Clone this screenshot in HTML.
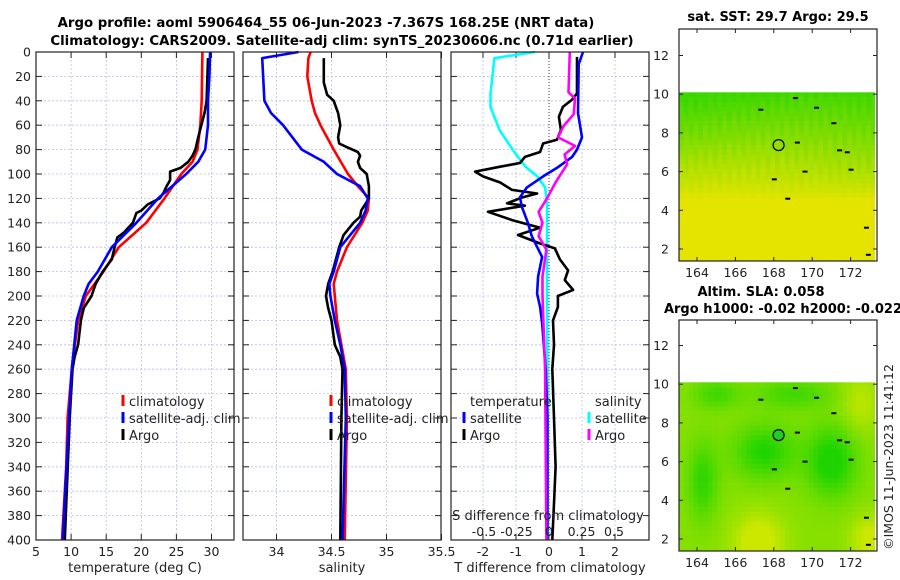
<!DOCTYPE html>
<html><head><meta charset="utf-8"><style>
body{margin:0;background:#fff}
svg{display:block;font-family:"DejaVu Sans","Liberation Sans",sans-serif}
</style></head><body>
<svg id="fig" width="900" height="580" viewBox="0 0 900 580" xmlns="http://www.w3.org/2000/svg">
<defs>
<clipPath id="clipm1"><rect x="679" y="29" width="197" height="232"/></clipPath>
<clipPath id="clipm2"><rect x="679" y="320" width="197" height="231"/></clipPath>
</defs>
<g id="titles" font-weight="bold" font-size="13.3" text-anchor="middle" fill="#000">
<text x="326" y="27">Argo profile: aoml 5906464_55 06-Jun-2023 -7.367S 168.25E (NRT data)</text>
<text x="342" y="45">Climatology: CARS2009. Satellite-adj clim: synTS_20230606.nc (0.71d earlier)</text>
</g>
<g id="p1"></g>
<g id="p2"></g>
<g id="p3"></g>
<g id="m1"></g>
<g id="m2"></g>
<text x="893" y="457" transform="rotate(-90 893 457)" text-anchor="middle" font-size="12.5" fill="#222">©IMOS 11-Jun-2023 11:41:12</text>
</svg>
<script>
// ---------- data ----------
const yTicks=[0,20,40,60,80,100,120,140,160,180,200,220,240,260,280,300,320,340,360,380,400];
const tTicks=[5,10,15,20,25,30];
const sTicks=[34,34.5,35,35.5];
const dTicks=[-2,-1,0,1,2];
const sdTicks=[-0.5,-0.25,0,0.25,0.5];
const sdTickLabels=["-0.5","-0.25","0","0.25","0.5"];
const lonTicks=[164,166,168,170,172];
const latTicks=[2,4,6,8,10,12];

const climTDepth=[0,40,60,80,90,100,120,140,160,180,200,220,260,300,340,400];
const climT=[28.7,28.6,28.4,28.0,27.3,25.7,23.3,20.7,16.8,14.6,12.1,11.0,10.1,9.5,9.3,8.7];
const satTDepth=[0,20,40,60,70,80,90,100,120,140,160,180,190,200,220,260,300,400];
const satT=[29.8,29.7,29.5,29.5,29.3,29.1,28.1,26.4,22.4,19.3,15.8,13.8,12.5,11.8,10.8,10.1,9.7,8.8];
const argoTDepth=[5,40,50,70,80,85,90,95,98,105,110,115,120,125,130,132,140,148,152,160,170,180,190,200,210,220,240,250,260,300,400];
const argoT=[29.5,29.3,29.0,28.1,27.7,27.3,26.7,25.6,24.1,24.1,23.6,23.2,22.6,20.9,20.0,19.3,18.8,17.5,16.6,16.2,15.8,14.5,13.5,12.9,11.8,11.4,11.0,10.5,10.2,9.8,9.1];

const satSDepth=[0,5,40,50,60,80,90,100,110,120,130,140,160,180,190,200,220,240,260,300,400];
const satS=[34.2,33.87,33.89,33.95,34.06,34.23,34.43,34.55,34.76,34.83,34.81,34.76,34.58,34.52,34.48,34.49,34.53,34.58,34.62,34.63,34.6];
const climSDepth=[0,5,20,40,50,60,80,100,110,120,130,140,160,180,190,200,220,240,260,300,400];
const climS=[34.31,34.29,34.28,34.32,34.35,34.4,34.52,34.65,34.74,34.84,34.83,34.78,34.64,34.55,34.52,34.53,34.55,34.59,34.63,34.64,34.62];
const argoSDepth=[5,25,35,40,50,60,70,75,78,82,85,90,95,100,110,120,130,135,140,150,160,170,180,190,200,210,220,240,250,260,300,400];
const argoS=[34.43,34.43,34.46,34.52,34.56,34.58,34.56,34.57,34.64,34.74,34.76,34.74,34.76,34.82,34.84,34.84,34.77,34.76,34.7,34.61,34.57,34.54,34.51,34.47,34.45,34.47,34.5,34.53,34.58,34.6,34.59,34.58];

const dSatSDepth=[0,5,34,45,64,80,94,102,111,124,140,200,300,400];
const dSatS=[-0.108,-0.42,-0.45,-0.45,-0.38,-0.28,-0.18,-0.09,-0.03,-0.015,-0.015,-0.015,-0.01,-0.01];
const dArgoTDepth=[4,34,39,45,53,64,72,75,82,86,91,94,98,102,107,113,116,119,124,126,131,138,144,150,157,161,170,179,187,195,200,209,220,240,260,300,340,370,400];
const dArgoT=[0.85,0.85,0.7,0.42,0.3,0.36,0.24,-0.18,-0.27,-0.73,-0.88,-1.48,-2.24,-2.0,-1.48,-1.12,-0.36,-0.79,-1.27,-0.73,-1.85,-1.09,-0.27,-0.94,-0.27,0.18,0.33,0.58,0.48,0.73,0.27,0.27,0.12,0.15,0.1,0.15,0.2,0.15,0.1];
const dSatTDepth=[0,10,50,70,80,86,95,102,111,119,127,140,151,168,184,198,209,222,260,300,400];
const dSatT=[1.03,0.9,0.88,1.0,0.85,0.7,0.24,-0.18,-0.67,-0.88,-0.82,-0.64,-0.52,-0.21,-0.33,-0.36,-0.27,-0.21,-0.1,-0.05,-0.05];
const dArgoSDepth=[0,33,38,51,61,70,77,84,92,97,107,119,126,131,140,151,162,184,200,260,400];
const dArgoS=[0.16,0.15,0.2,0.19,0.11,0.07,0.2,0.12,0.14,0.11,0.05,-0.01,-0.05,-0.08,-0.05,-0.08,-0.02,-0.05,-0.05,-0.03,-0.02];

// ---------- helpers ----------
const NS="http://www.w3.org/2000/svg";
function mk(parent,tag,attrs,text){const e=document.createElementNS(NS,tag);for(const k in attrs)e.setAttribute(k,attrs[k]);if(text!==undefined)e.textContent=text;parent.appendChild(e);return e;}
const Y0=52,Y1=540;
const yD=d=>Y0+(d/400)*(Y1-Y0);

function panel(g,x0,x1,xs,xticks,xlabels,gridX,xtitle,showY){
  mk(g,'rect',{x:x0,y:Y0,width:x1-x0,height:Y1-Y0,fill:'#fff'});
  for(const v of gridX){const l=mk(g,'line',{x1:xs(v),x2:xs(v),y1:Y0,y2:Y1,stroke:'#b8bfe6','stroke-width':0.8,'stroke-dasharray':'2,2'});
    
    }
  for(const d of yTicks){const l=mk(g,'line',{x1:x0,x2:x1,y1:yD(d),y2:yD(d),stroke:'#b8bfe6','stroke-width':0.8,'stroke-dasharray':'2,2'});
    
    
    mk(g,'line',{x1:x0,x2:x0+6,y1:yD(d),y2:yD(d),stroke:'#222'});
    mk(g,'line',{x1:x1-6,x2:x1,y1:yD(d),y2:yD(d),stroke:'#222'});
    if(showY){const t=mk(g,'text',{x:x0-5,y:yD(d)+4.5,'text-anchor':'end','font-size':12.5,fill:'#222'},String(d));
      
      }}
  xticks.forEach((v,i)=>{mk(g,'line',{x1:xs(v),x2:xs(v),y1:Y1,y2:Y1-6,stroke:'#222'});mk(g,'line',{x1:xs(v),x2:xs(v),y1:Y0,y2:Y0+6,stroke:'#222'});
    const t=mk(g,'text',{x:xs(v),y:556,'text-anchor':'middle','font-size':12.5,fill:'#222'},xlabels[i]);
    
    });
  const tt=mk(g,'text',{x:(x0+x1)/2,y:572,'text-anchor':'middle','font-size':13,fill:'#222'},xtitle);
  
  
}
function frame(g,x0,x1){mk(g,'rect',{x:x0,y:Y0,width:x1-x0,height:Y1-Y0,fill:'none',stroke:'#222','stroke-width':1.2});}
function line(g,xs,vals,depths,color,name){
  const pts=vals.map((v,i)=>xs(v).toFixed(1)+','+yD(depths[i]).toFixed(1)).join(' ');
  const p=mk(g,'polyline',{points:pts,fill:'none',stroke:color,'stroke-width':2.6,'stroke-linejoin':'round'});
  
  
}
function legendEntry(g,x,y,color,label,name){
  mk(g,'rect',{x:x-1.5,y:y-11,width:3,height:11,fill:color});
  const t=mk(g,'text',{x:x+6,y:y,'font-size':13,fill:'#222'},label);
  
  
}

// ---------- panel 1 ----------
const p1=document.getElementById('p1');
const xT=v=>36+(v-5)*(211.5-36)/25;
panel(p1,36,234,xT,tTicks,tTicks.map(String),[10,15,20,25,30],'temperature (deg C)',true);
line(p1,xT,climT,climTDepth,'#ff0000','climatology-temperature-line');
line(p1,xT,argoT,argoTDepth,'#000','argo-temperature-line');
line(p1,xT,satT,satTDepth,'#0000ff','satellite-temperature-line');
frame(p1,36,234);
legendEntry(p1,123,406,'#ff0000','climatology','legend-climatology');
legendEntry(p1,123,423,'#0000ff','satellite-adj. clim','legend-satellite');
legendEntry(p1,123,440,'#000','Argo','legend-argo');

// ---------- panel 2 ----------
const p2=document.getElementById('p2');
const xS=v=>276.5+(v-34)*110;
panel(p2,243,441,xS,sTicks,sTicks.map(String),[34,34.5,35],'salinity',false);
line(p2,xS,climS,climSDepth,'#ff0000','climatology-salinity-line');
line(p2,xS,argoS,argoSDepth,'#000','argo-salinity-line');
line(p2,xS,satS,satSDepth,'#0000ff','satellite-salinity-line');
frame(p2,243,441);
legendEntry(p2,331,406,'#ff0000','climatology','legend-climatology');
legendEntry(p2,331,423,'#0000ff','satellite-adj. clim','legend-satellite');
legendEntry(p2,331,440,'#000','Argo','legend-argo');

// ---------- panel 3 ----------
const p3=document.getElementById('p3');
const xD=v=>549+v*33;
const xSD=v=>549+v*130;
panel(p3,451,649,xD,dTicks,dTicks.map(String),[-2,-1,1,2],'T difference from climatology',false);
mk(p3,'line',{x1:xD(0),x2:xD(0),y1:Y0,y2:Y1,stroke:'#333','stroke-width':1,'stroke-dasharray':'1,2'});
line(p3,xSD,dSatS,dSatSDepth,'#00ffff','salinity-satellite-diff-line');
line(p3,xD,dArgoT,dArgoTDepth,'#000','temperature-argo-diff-line');
line(p3,xD,dSatT,dSatTDepth,'#0000ff','temperature-satellite-diff-line');
line(p3,xSD,dArgoS,dArgoSDepth,'#ff00ff','salinity-argo-diff-line');
frame(p3,451,649);
{const t=mk(p3,'text',{x:470,y:406,'font-size':13,fill:'#222'},'temperature');}
{const t=mk(p3,'text',{x:595,y:406,'font-size':13,fill:'#222'},'salinity');}
legendEntry(p3,464,423,'#0000ff','satellite','legend-temp-satellite');
legendEntry(p3,464,440,'#000','Argo','legend-temp-argo');
legendEntry(p3,589,423,'#00ffff','satellite','legend-sal-satellite');
legendEntry(p3,589,440,'#ff00ff','Argo','legend-sal-argo');
{const t=mk(p3,'text',{x:548,y:520,'text-anchor':'middle','font-size':13,fill:'#222'},'S difference from climatology');}
sdTicks.forEach((v,i)=>{const t=mk(p3,'text',{x:xSD(v),y:536,'text-anchor':'middle','font-size':12.5,fill:'#222'},sdTickLabels[i]);
  
  });

// ---------- maps ----------
function mapPanel(g,top,bottom,colorFn,title1,title2,filled,clipId){
  const X0=679,X1=877;
  const lonX=l=>697+(l-164)*19.2;
  const latY=l=>bottom-12-(l-2)*19.35;
  const dataTop=latY(10.1);
  const cell=4.8;
  const cg=mk(g,'g',{'clip-path':'url(#'+clipId+')'});
  for(let y=dataTop;y<bottom;y+=cell){for(let x=X0;x<X1-2;x+=cell){
    const lon=164+(x+cell/2-697)/19.2, lat=2+(bottom-12-(y+cell/2))/19.35;
    mk(cg,'rect',{x:x.toFixed(1),y:y.toFixed(1),width:cell+0.3,height:cell+0.3,fill:colorFn(lon,lat,x,y)});}}
  mk(cg,'rect',{x:X1-2,y:dataTop,width:3,height:bottom-dataTop,fill:'#fff'});
  const isl=[[167.3,9.2],[169.1,9.8],[170.2,9.3],[171.1,8.5],[171.4,7.1],[171.8,7.0],[169.2,7.5],[172.0,6.1],[169.6,6.0],[168.0,5.6],[168.7,4.6],[172.8,3.1],[172.9,1.7]];
  isl.forEach(p=>mk(cg,'rect',{x:lonX(p[0])-2,y:latY(p[1])-1,width:5,height:2,fill:'#000'}));
  const c=mk(g,'circle',{cx:lonX(168.25),cy:latY(7.37),r:5.5,fill:filled?'#22cc22':'none',stroke:'#000','stroke-width':1.2});
  
  
  mk(g,'rect',{x:X0,y:top,width:X1-X0,height:bottom-top,fill:'none',stroke:'#222','stroke-width':1.2});
  lonTicks.forEach(l=>{mk(g,'line',{x1:lonX(l),x2:lonX(l),y1:bottom,y2:bottom-4,stroke:'#222'});mk(g,'line',{x1:lonX(l),x2:lonX(l),y1:top,y2:top+4,stroke:'#222'});
    const t=mk(g,'text',{x:lonX(l),y:bottom+16,'text-anchor':'middle','font-size':12.5,fill:'#222'},String(l));
    
    });
  latTicks.forEach(l=>{mk(g,'line',{x1:X0,x2:X0+4,y1:latY(l),y2:latY(l),stroke:'#222'});mk(g,'line',{x1:X1-4,x2:X1,y1:latY(l),y2:latY(l),stroke:'#222'});
    const t=mk(g,'text',{x:X0-10,y:latY(l)+4.5,'text-anchor':'end','font-size':12.5,fill:'#222'},String(l));
    
    });
  if(title2){
    const a=mk(g,'text',{x:761,y:top-24,'text-anchor':'middle','font-size':13,'font-weight':'bold'},title1);
    const b=mk(g,'text',{x:783,y:top-7,'text-anchor':'middle','font-size':13,'font-weight':'bold'},title2);
  } else {
    const a=mk(g,'text',{x:778,y:top-8,'text-anchor':'middle','font-size':13,'font-weight':'bold'},title1);
  }
}
function rgb(r,g,b){return 'rgb('+Math.round(r)+','+Math.round(g)+','+Math.round(b)+')';}
function sstColor(lon,lat,x,y){
  let t=Math.max(0,Math.min(1,(lat-4.5)/5.5));
  t+=0.12*Math.sin(x*2.3+y*0.7)*Math.cos(y*1.9+x*0.3)*Math.min(1,t*3);
  t=Math.max(0,Math.min(1,t));
  const r=228-(228-60)*Math.pow(t,0.9), g=228-(228-215)*t, b=0;
  return rgb(r,g,b);
}
function slaColor(lon,lat){
  const blob=(a,b,sx,sy)=>Math.exp(-((lon-a)**2)/(sx*sx)-((lat-b)**2)/(sy*sy));
  let v=0.4+0.6*blob(167.5,6.5,1.6,1.4)+0.7*blob(171,6,1.3,1.8)+0.5*blob(164.3,5,0.8,2)+0.4*blob(169,9.5,2,0.8)+0.4*blob(165,9.5,1.2,0.8)-0.55*blob(167.2,1.8,1.3,1.5)-0.45*blob(173,2,1,1.2)-0.3*blob(172.5,9,1,1.5);
  v=Math.max(0,Math.min(1,v));
  return rgb(205-175*v,232-20*v,0);
}
mapPanel(document.getElementById('m1'),29,261,sstColor,'sat. SST: 29.7 Argo: 29.5',null,false,'clipm1');
mapPanel(document.getElementById('m2'),320,551,slaColor,'Altim. SLA: 0.058','Argo h1000: -0.02 h2000: -0.022',true,'clipm2');
</script>
</body></html>
